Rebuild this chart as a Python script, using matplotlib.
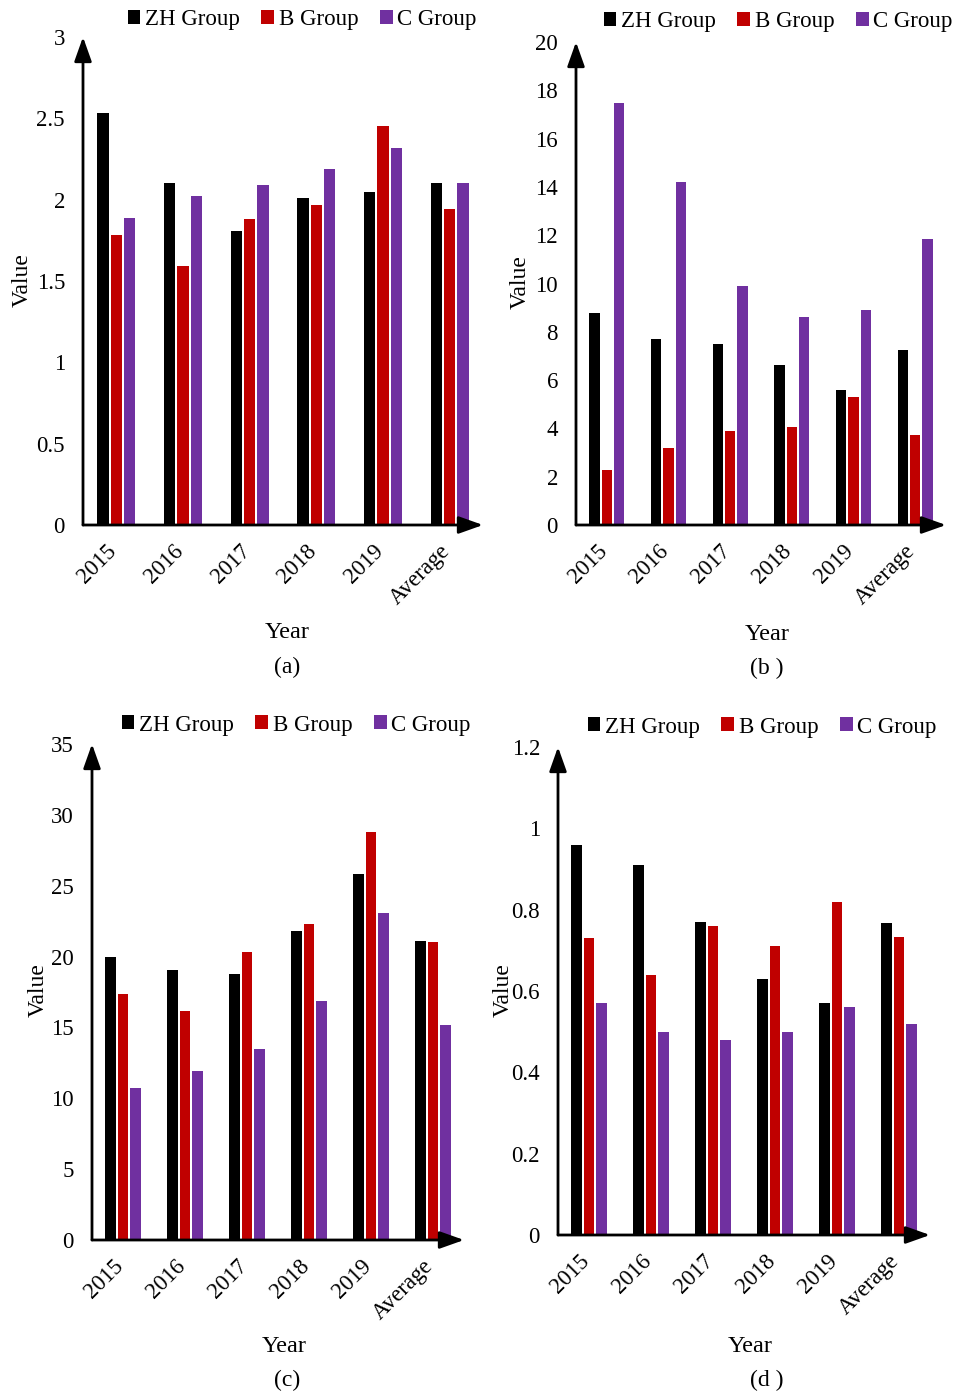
import matplotlib
matplotlib.use('Agg')
import matplotlib.pyplot as plt
import numpy as np

plt.rcParams['font.family'] = ['Liberation Serif', 'DejaVu Serif']
plt.rcParams['font.size'] = 16.5

# categories and groups
years = ['2015', '2016', '2017', '2018', '2019', 'Average']
groups = ['ZH Group', 'B Group', 'C Group']
colours = ['#000000', '#C00000', '#7030A0']

# panel (a)
zhA = [2.53, 2.10, 1.81, 2.01, 2.05, 2.10]
bA = [1.78, 1.59, 1.88, 1.97, 2.45, 1.94]
cA = [1.89, 2.02, 2.09, 2.19, 2.32, 2.10]

# panel (b)
zhB = [8.78, 7.71, 7.50, 6.64, 5.60, 7.26]
bB = [2.27, 3.17, 3.88, 4.04, 5.28, 3.71]
cB = [17.48, 14.20, 9.90, 8.60, 8.90, 11.83]

# panel (c)
zhC = [19.96, 19.05, 18.76, 21.80, 25.80, 21.08]
bC = [17.36, 16.16, 20.30, 22.28, 28.80, 21.00]
cC = [10.70, 11.90, 13.50, 16.90, 23.05, 15.20]

# panel (d)
zhD = [0.96, 0.91, 0.77, 0.63, 0.57, 0.767]
bD = [0.73, 0.64, 0.76, 0.71, 0.82, 0.733]
cD = [0.57, 0.50, 0.48, 0.50, 0.56, 0.52]

W, H = 956, 1392
fig = plt.figure(figsize=(W / 100, H / 100), dpi=100)


def px(x, y):
    # pixel position -> figure fraction
    return x / W, 1 - y / H


def drawPanel(rect, series, ymax, yticks, ticklabels, legendXY, yearXY, capXY, caption, valueXY):
    left, top = px(rect[0], rect[1])
    right, bottom = px(rect[2], rect[3])
    ax = fig.add_axes([left, bottom, right - left, top - bottom])
    x = np.arange(len(years))
    step = 0.2
    for i, vals in enumerate(series):
        ax.bar(x + (i - 1) * step, vals, width=0.17, color=colours[i],
               edgecolor='none', label=groups[i])
    ax.set_xlim(-0.5, 5.5)
    ax.set_ylim(0, ymax)
    ax.set_yticks(yticks)
    ax.set_yticklabels(ticklabels)
    ax.set_xticks(x + 0.07)
    ax.set_xticklabels(years, rotation=45, ha='right')
    ax.tick_params(length=0)
    ax.tick_params(axis='y', pad=13)
    ax.tick_params(axis='x', pad=11)
    for s in ax.spines.values():
        s.set_visible(False)
    # axis arrows
    arrow = dict(arrowstyle='-|>,head_width=0.32,head_length=0.9', color='black', lw=2,
                 shrinkA=0, shrinkB=0)
    ax.annotate('', xy=(1.0, 0), xytext=(0, 0), xycoords='axes fraction',
                arrowprops=arrow, annotation_clip=False)
    ax.annotate('', xy=(0, 1.0), xytext=(0, 0), xycoords='axes fraction',
                arrowprops=arrow, annotation_clip=False)
    handles, labels = ax.get_legend_handles_labels()
    fig.legend(handles, labels, loc='center', bbox_to_anchor=px(*legendXY), ncol=3,
               frameon=False, handlelength=0.55, handleheight=0.55, handletextpad=0.2,
               columnspacing=0.95, borderpad=0, fontsize=16.5)
    fig.text(*px(*yearXY), 'Year', ha='center', va='center', fontsize=17.5)
    fig.text(*px(*capXY), caption, ha='center', va='center', fontsize=17)
    fig.text(*px(*valueXY), 'Value', ha='center', va='center', rotation=90, fontsize=17)
    return ax


drawPanel((83, 37, 483, 525), [zhA, bA, cA], 3,
          [0, 0.5, 1, 1.5, 2, 2.5, 3], ['0', '0.5', '1', '1.5', '2', '2.5', '3'],
          (302, 20), (287, 632), (287, 667), '(a)', (22, 280))
drawPanel((576, 42, 946, 525), [zhB, bB, cB], 20,
          list(range(0, 21, 2)), [str(v) for v in range(0, 21, 2)],
          (778, 22), (767, 635), (767, 668), '(b )', (520, 282))
drawPanel((92, 744, 464, 1240), [zhC, bC, cC], 35,
          list(range(0, 36, 5)), [str(v) for v in range(0, 36, 5)],
          (296, 725), (284, 1346), (287, 1380), '(c)', (38, 990))
drawPanel((558, 747, 930, 1235), [zhD, bD, cD], 1.2,
          [0, 0.2, 0.4, 0.6, 0.8, 1.0, 1.2], ['0', '0.2', '0.4', '0.6', '0.8', '1', '1.2'],
          (762, 727), (750, 1346), (767, 1380), '(d )', (503, 990))

plt.savefig('out.png', dpi=100)
